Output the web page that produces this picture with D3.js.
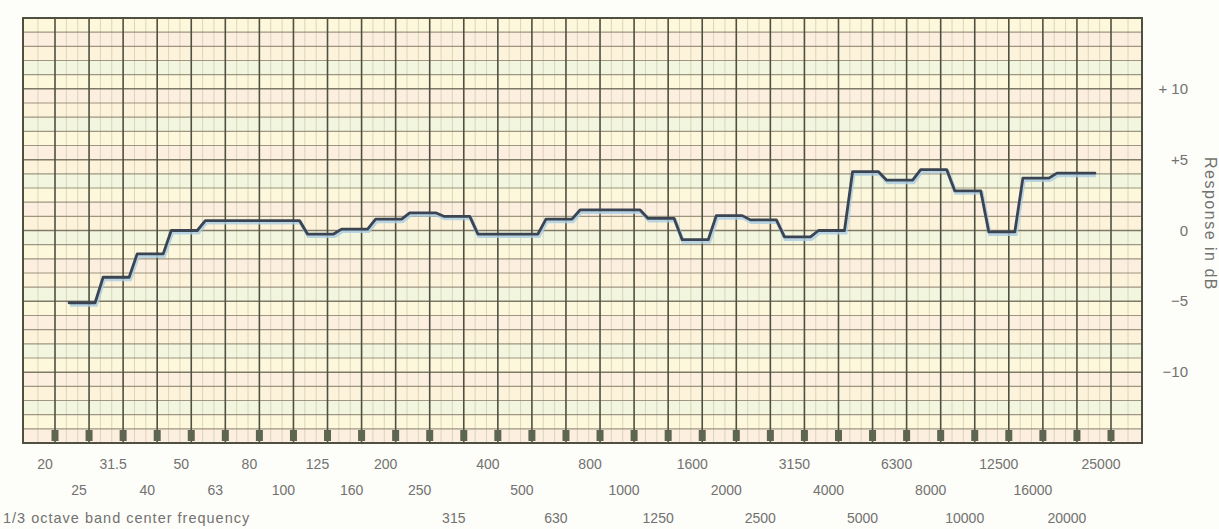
<!DOCTYPE html>
<html>
<head>
<meta charset="utf-8">
<script src="https://cdn.jsdelivr.net/npm/d3@7"></script>
<style>
  body { margin: 0; background: #fdfdf9; }
  svg { display: block; font-family: 'Liberation Sans', Arial, sans-serif; }
</style>
</head>
<body>
<svg id="chart"></svg>
<script>
// 1/3 octave band centre frequencies (Hz)
const bands = ['20', '25', '31.5', '40', '50', '63', '80', '100', '125', '160', '200', '250',
  '315', '400', '500', '630', '800', '1000', '1250', '1600', '2000', '2500', '3150', '4000',
  '5000', '6300', '8000', '10000', '12500', '16000', '20000', '25000'];

// measured response, 25 Hz .. 20 kHz (dB)
const measuredBands = bands.slice(1, 31);
const responseDb = [-5.1, -3.3, -1.65, 0, 0.7, 0.7, 0.7, -0.25, 0.1, 0.8, 1.25, 1.0,
  -0.25, -0.25, 0.8, 1.45, 1.45, 0.85, -0.65, 1.05, 0.75, -0.45, 0, 4.15,
  3.55, 4.3, 2.8, -0.1, 3.7, 4.05];

const dbTicks = [10, 5, 0, -5, -10];
const dbTickLabels = ['+ 10', '+5', '0', '\u22125', '\u221210'];

const width = 1219, height = 529;
const padL = 23, padR = 1142, padT = 18, padB = 443;

const svg = d3.select('#chart').attr('width', width).attr('height', height);

// scales
const x = d3.scalePoint().domain(bands).range([55, 1111]);
const y = d3.scaleLinear().domain([-15, 15]).range([padB, padT]);

// paper background, tinted stripes per dB
const stripeColors = ['#fcefe0', '#fdf8dc', '#f3f6df', '#fdf3db'];
const rows = d3.range(-15, 15);
svg.append('g')
  .selectAll('rect')
  .data(rows)
  .join('rect')
    .attr('x', padL)
    .attr('width', padR - padL)
    .attr('y', d => y(d + 1))
    .attr('height', d => y(d) - y(d + 1))
    .attr('fill', (d, i) => stripeColors[i % stripeColors.length]);

// minor verticals
const minor = [];
bands.forEach((b, i) => {
  if (i < bands.length - 1) {
    const step = x.step();
    minor.push(x(b) + step / 3, x(b) + 2 * step / 3);
  }
});
minor.push(x(bands[0]) - x.step() / 2, x(bands[bands.length - 1]) + x.step() / 2);
svg.append('g')
  .selectAll('line')
  .data(minor)
  .join('line')
    .attr('x1', d => d).attr('x2', d => d)
    .attr('y1', padT).attr('y2', padB)
    .attr('stroke', '#d2cbb4')
    .attr('stroke-width', 0.8);

// horizontal dB lines
svg.append('g')
  .selectAll('line')
  .data(d3.range(-14, 15))
  .join('line')
    .attr('x1', padL).attr('x2', padR)
    .attr('y1', d => y(d)).attr('y2', d => y(d))
    .attr('stroke', d => d % 5 === 0 ? '#6a6552' : '#8e8571')
    .attr('stroke-width', d => d % 5 === 0 ? 1.5 : 1.2)
    .attr('opacity', 0.85);

// major verticals at each band
svg.append('g')
  .selectAll('line')
  .data(bands)
  .join('line')
    .attr('x1', d => x(d)).attr('x2', d => x(d))
    .attr('y1', padT).attr('y2', padB)
    .attr('stroke', '#4f5040')
    .attr('stroke-width', 1.6);

// frame
svg.append('rect')
  .attr('x', padL).attr('y', padT)
  .attr('width', padR - padL).attr('height', padB - padT)
  .attr('fill', 'none')
  .attr('stroke', '#4f5040')
  .attr('stroke-width', 2);

// band markers on the bottom edge
svg.append('g')
  .selectAll('rect')
  .data(bands)
  .join('rect')
    .attr('x', d => x(d) - 3.5)
    .attr('y', padB - 13)
    .attr('width', 7)
    .attr('height', 11)
    .attr('fill', '#5d6650');

// response trace: one flat per band, sloped between
const half = 13;
const pts = [];
measuredBands.forEach((b, i) => {
  const c = x(b) - 7;
  pts.push([c - half, y(responseDb[i])], [c + half, y(responseDb[i])]);
});
pts[pts.length - 1][0] += 12;
const line = d3.line();

svg.append('path')
  .attr('d', line(pts.map(p => [p[0] + 1, p[1] + 2])))
  .attr('fill', 'none')
  .attr('stroke', '#a9cce4')
  .attr('stroke-width', 4)
  .attr('opacity', 0.8);

svg.append('path')
  .attr('d', line(pts))
  .attr('fill', 'none')
  .attr('stroke', '#3b4452')
  .attr('stroke-width', 2.8)
  .attr('stroke-linejoin', 'round')
  .attr('stroke-linecap', 'round');

// frequency labels in three staggered rows
const rowY = [469, 495, 523];
const rowOf = i => i < 12 ? i % 2 : [2, 0, 1][(i - 12) % 3];
svg.append('g')
  .selectAll('text')
  .data(bands)
  .join('text')
    .attr('x', d => x(d) - 10)
    .attr('y', (d, i) => rowY[rowOf(i)])
    .attr('text-anchor', 'middle')
    .attr('font-size', 14)
    .attr('fill', '#727270')
    .text(d => d);

svg.append('text')
  .attr('x', 3).attr('y', 523)
  .attr('font-size', 14.5)
  .attr('letter-spacing', 1)
  .attr('fill', '#727270')
  .text('1/3 octave band center frequency');

// dB labels on the right
svg.append('g')
  .selectAll('text')
  .data(dbTicks)
  .join('text')
    .attr('x', 1188)
    .attr('y', d => y(d) + 5)
    .attr('text-anchor', 'end')
    .attr('font-size', 15)
    .attr('fill', '#727270')
    .text((d, i) => dbTickLabels[i]);

svg.append('text')
  .attr('transform', 'translate(1205, 224) rotate(90)')
  .attr('text-anchor', 'middle')
  .attr('font-size', 16)
  .attr('letter-spacing', 1.5)
  .attr('fill', '#727270')
  .text('Response in dB');
</script>
</body>
</html>
